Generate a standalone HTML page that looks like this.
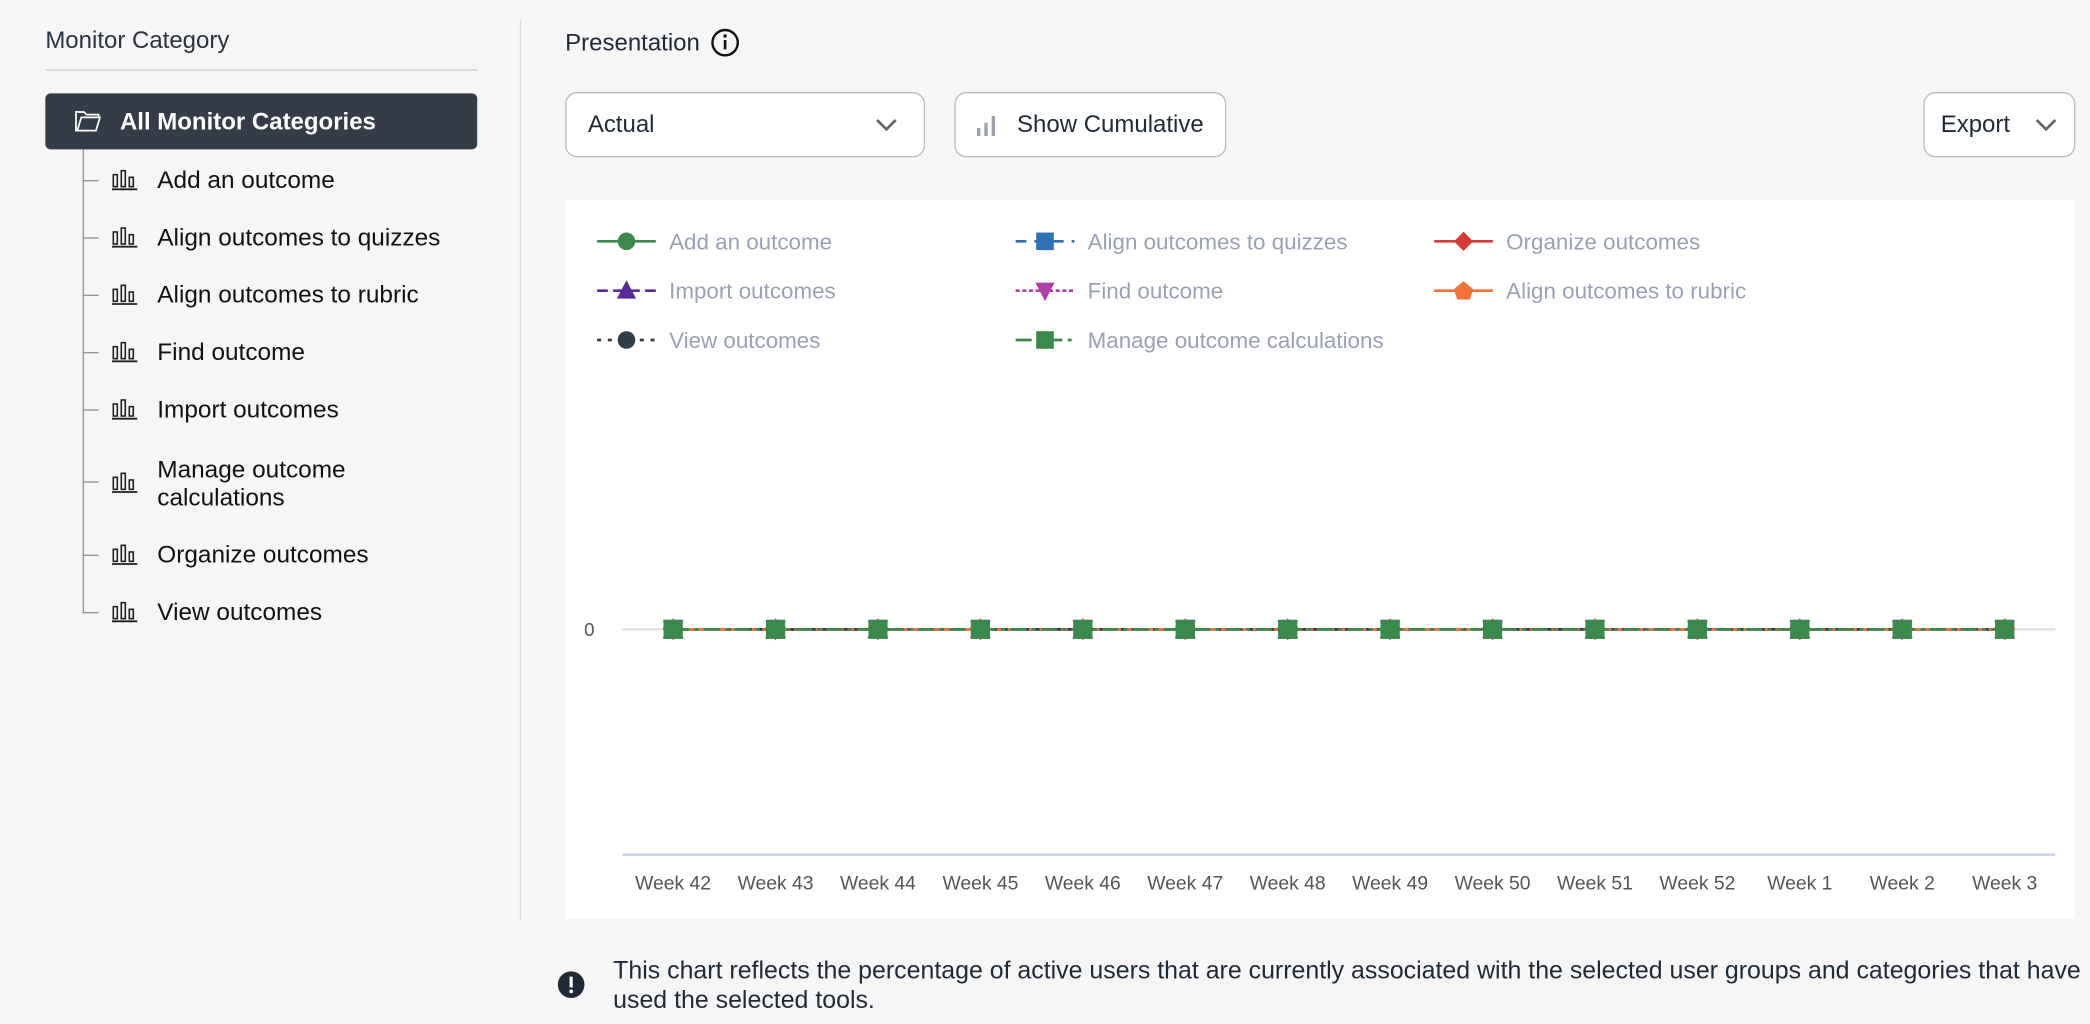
<!DOCTYPE html>
<html><head><meta charset="utf-8"><style>
html,body{margin:0;padding:0;background:#f6f6f6;width:2090px;height:1024px;overflow:hidden}
#root{position:absolute;left:0;top:0;width:1568px;height:768px;transform:scale(1.33291,1.33333);transform-origin:0 0;font-family:"Liberation Sans",sans-serif;color:#1f2a37}
.abs{position:absolute}
.tree-item{position:absolute;left:84px;font-size:18.3px;color:#111;display:flex;align-items:center;white-space:nowrap}
.tree-item svg{margin-right:14px}
.btn{position:absolute;background:#fff;border:1px solid #b9bec5;border-radius:9px;box-sizing:border-box;font-size:18px;display:flex;align-items:center}
</style></head><body>
<div id="root">
  <div class="abs" style="left:34px;top:20px;font-size:18px;color:#2a3441">Monitor Category</div>
  <div class="abs" style="left:34px;top:52px;width:324px;height:1px;background:#c9cfd6"></div>
  <div class="abs" style="left:34px;top:70px;width:324px;height:42px;background:#343d47;border-radius:4px;color:#fff;font-size:18px;font-weight:bold;display:flex;align-items:center">
    <svg width="20" height="18" style="margin-left:22px;margin-right:14px" viewBox="0 0 20 18"><path d="M1 2h6l2 2h9v2H5L2 16H1zM5 6h14l-3 10H2z" fill="none" stroke="#fff" stroke-width="1.3"/></svg>All Monitor Categories</div>
  <div class="abs" style="left:62px;top:112px;width:1px;height:348px;background:#8d949c"></div>
  <div id="tree"></div>
  <div class="abs" style="left:390px;top:15px;width:1px;height:675px;background:#d6d9dd"></div>

  <div class="abs" style="left:424px;top:21px;font-size:18px;color:#1f2a37;display:flex;align-items:center">Presentation
    <svg width="22" height="22" style="margin-left:8px"><circle cx="11" cy="11" r="9.5" fill="none" stroke="#111" stroke-width="1.8"/><rect x="10" y="9" width="2" height="7" fill="#111"/><circle cx="11" cy="6" r="1.3" fill="#111"/></svg></div>
  <div class="btn" style="left:424px;top:69px;width:270px;height:49px;padding-left:16px">Actual
    <svg width="16" height="10" style="position:absolute;right:20px;top:19px"><path d="M1 1l7 7 7-7" fill="none" stroke="#666" stroke-width="2"/></svg></div>
  <div class="btn" style="left:716px;top:69px;width:204px;height:49px;padding-left:14px">
    <svg width="18" height="18" style="margin-right:14px"><rect x="2" y="11" width="2.5" height="6" fill="#9aa1a9"/><rect x="7.5" y="7" width="2.5" height="10" fill="#9aa1a9"/><rect x="13" y="2" width="2.5" height="15" fill="#9aa1a9"/></svg>Show Cumulative</div>
  <div class="btn" style="left:1443px;top:69px;width:114px;height:49px;padding-left:12px">Export
    <svg width="16" height="10" style="position:absolute;right:13px;top:19px"><path d="M1 1l7 7 7-7" fill="none" stroke="#666" stroke-width="2"/></svg></div>

  <svg class="abs" id="chart" style="left:424px;top:150px" width="1133" height="539"></svg>

  <svg class="abs" style="left:418px;top:728px" width="21" height="21"><circle cx="10.5" cy="10.5" r="10" fill="#1f2a37"/><rect x="9.3" y="4.5" width="2.4" height="8" fill="#fff"/><circle cx="10.5" cy="15.5" r="1.4" fill="#fff"/></svg>
  <div class="abs" style="left:460px;top:717px;width:1105px;font-size:18.7px;line-height:22px;color:#1f2a37">This chart reflects the percentage of active users that are currently associated with the selected user groups and categories that have used the selected tools.</div>
</div>
<script>
var categories=["Week 42","Week 43","Week 44","Week 45","Week 46","Week 47","Week 48","Week 49","Week 50","Week 51","Week 52","Week 1","Week 2","Week 3"];
var seriesNames=["Add an outcome","Align outcomes to quizzes","Organize outcomes","Import outcomes","Find outcome","Align outcomes to rubric","View outcomes","Manage outcome calculations"];
var addOutcome=[0,0,0,0,0,0,0,0,0,0,0,0,0,0];
var alignQuizzes=[0,0,0,0,0,0,0,0,0,0,0,0,0,0];
var organizeOutcomes=[0,0,0,0,0,0,0,0,0,0,0,0,0,0];
var importOutcomes=[0,0,0,0,0,0,0,0,0,0,0,0,0,0];
var findOutcome=[0,0,0,0,0,0,0,0,0,0,0,0,0,0];
var alignRubric=[0,0,0,0,0,0,0,0,0,0,0,0,0,0];
var viewOutcomes=[0,0,0,0,0,0,0,0,0,0,0,0,0,0];
var manageCalc=[0,0,0,0,0,0,0,0,0,0,0,0,0,0];
var yTicks=[0];
var sidebarItems=["Add an outcome","Align outcomes to quizzes","Align outcomes to rubric","Find outcome","Import outcomes","Manage outcome calculations","Organize outcomes","View outcomes"];

var NS="http://www.w3.org/2000/svg";
function mk(tag,attrs,parent){var e=document.createElementNS(NS,tag);for(var k in attrs)e.setAttribute(k,attrs[k]);parent.appendChild(e);return e;}

var tree=document.getElementById('tree');
var tops=[135,178,221,264,307,361,416,459];
sidebarItems.forEach(function(t,i){
  var d=document.createElement('div');
  
  
  d.className='tree-item';
  d.style.top=(tops[i]-11)+'px';
  if(i==5){d.style.top=(tops[i]-20)+'px';d.style.whiteSpace='normal';d.style.width='180px';d.style.lineHeight='21px';}
  d.innerHTML='<svg width="20" height="16" style="flex:none"><rect x="1" y="4" width="3" height="9" fill="none" stroke="#222" stroke-width="1.2"/><rect x="7" y="1" width="3" height="12" fill="none" stroke="#222" stroke-width="1.2"/><rect x="13" y="6" width="3" height="7" fill="none" stroke="#222" stroke-width="1.2"/><line x1="0" y1="15" x2="19" y2="15" stroke="#222" stroke-width="1.4"/></svg><span>'+t+'</span>';
  tree.appendChild(d);
  var tick=document.createElement('div');
  
  
  tick.className='abs';
  tick.style.cssText='left:62px;top:'+tops[i]+'px;width:12px;height:1px;background:#8d949c';
  tree.appendChild(tick);
});

var svg=document.getElementById('chart');
mk('rect',{x:0,y:0,width:1133,height:539,fill:'#fff'},svg);
var x0=81,x1=1080,plotL=43,plotR=1118,zeroY=322,axisY=491;
function xs(i){return x0+(x1-x0)*i/(categories.length-1);}
function ys(v){return zeroY-v*170;}
yTicks.forEach(function(t){
  var g=mk('line',{x1:plotL,x2:plotR,y1:ys(t),y2:ys(t),stroke:'#e3e3e3','stroke-width':2},svg);
  
  
  var tx=mk('text',{x:22,y:ys(t)+5,'text-anchor':'end','font-size':14,fill:'#555','font-family':'Liberation Sans, sans-serif'},svg);
  tx.textContent=t;
  
  
});
var ax=mk('line',{x1:plotL,x2:plotR,y1:axisY,y2:axisY,stroke:'#ccd6eb','stroke-width':2},svg);


categories.forEach(function(c,i){
  var t=mk('text',{x:xs(i),y:axisY+26,'text-anchor':'middle','font-size':14.5,fill:'#555','font-family':'Liberation Sans, sans-serif'},svg);
  t.textContent=c;
  
  
});
var series=[
 {d:addOutcome,c:'#3a8a4c',dash:'',m:'circle'},
 {d:alignQuizzes,c:'#2f6fb3',dash:'8,6',m:'square'},
 {d:organizeOutcomes,c:'#d63a36',dash:'',m:'diamond'},
 {d:importOutcomes,c:'#5b2a9a',dash:'8,4',m:'triangle'},
 {d:findOutcome,c:'#b040a8',dash:'3,2',m:'tridown'},
 {d:alignRubric,c:'#ef7436',dash:'',m:'pentagon'},
 {d:viewOutcomes,c:'#333d47',dash:'3,5',m:'circle'},
 {d:manageCalc,c:'#3a8a4c',dash:'12,4,3,4',m:'square'}
];
function marker(type,cx,cy,col,s,parent){
  var e;
  if(type=='circle')e=mk('circle',{cx:cx,cy:cy,r:s*0.55,fill:col},parent);
  else if(type=='square')e=mk('rect',{x:cx-s*0.55,y:cy-s*0.55,width:s*1.1,height:s*1.1,fill:col},parent);
  else if(type=='diamond')e=mk('path',{d:'M'+cx+' '+(cy-s*0.6)+'L'+(cx+s*0.6)+' '+cy+'L'+cx+' '+(cy+s*0.6)+'L'+(cx-s*0.6)+' '+cy+'Z',fill:col},parent);
  else if(type=='triangle')e=mk('path',{d:'M'+cx+' '+(cy-s*0.65)+'L'+(cx+s*0.6)+' '+(cy+s*0.5)+'L'+(cx-s*0.6)+' '+(cy+s*0.5)+'Z',fill:col},parent);
  else if(type=='tridown')e=mk('path',{d:'M'+cx+' '+(cy+s*0.65)+'L'+(cx+s*0.6)+' '+(cy-s*0.5)+'L'+(cx-s*0.6)+' '+(cy-s*0.5)+'Z',fill:col},parent);
  else e=mk('path',{d:'M'+cx+' '+(cy-s*0.6)+'L'+(cx+s*0.6)+' '+(cy-s*0.1)+'L'+(cx+s*0.4)+' '+(cy+s*0.55)+'L'+(cx-s*0.4)+' '+(cy+s*0.55)+'L'+(cx-s*0.6)+' '+(cy-s*0.1)+'Z',fill:col},parent);
  return e;
}
series.forEach(function(s,k){
  var g=mk('g',{},svg);
  
  
  var pts=s.d.map(function(v,i){return xs(i)+','+ys(v);}).join(' ');
  var pl=mk('polyline',{points:pts,fill:'none',stroke:s.c,'stroke-width':2,'stroke-dasharray':s.dash},g);
  
  
  s.d.forEach(function(v,i){
    var m=marker(s.m,xs(i),ys(v),s.c,13,g);
    
    
  });
});
var legX=[24,338,652],legY=[31,68,105];
seriesNames.forEach(function(n,k){
  var s=series[k];var lx=legX[k%3],ly=legY[Math.floor(k/3)];
  var g=mk('g',{},svg);
  
  
  mk('line',{x1:lx,x2:lx+44,y1:ly,y2:ly,stroke:s.c,'stroke-width':2,'stroke-dasharray':s.dash},g);
  marker(s.m,lx+22,ly,s.c,12,g);
  var t=mk('text',{x:lx+54,y:ly+6,'font-size':16.8,fill:'#98a2b3','font-family':'Liberation Sans, sans-serif'},g);
  t.textContent=n;
});
</script>
</body></html>
